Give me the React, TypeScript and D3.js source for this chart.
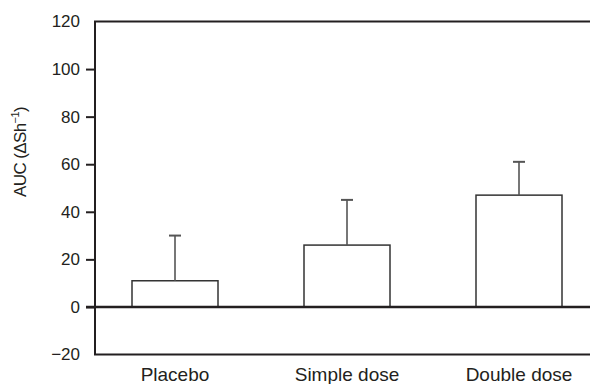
import { useEffect, useRef } from "react";
import * as d3 from "d3";

const categories = ["Placebo", "Simple dose", "Double dose"];
const means = [11, 26, 47];
const upperErrors = [30, 45, 61];
const yTicks = [-20, 0, 20, 40, 60, 80, 100, 120];

export default function App() {
  const svgRef = useRef<SVGSVGElement>(null);

  useEffect(() => {
    const width = 590;
    const height = 384;
    const svg = d3.select(svgRef.current).attr("width", width).attr("height", height);
    svg.selectAll("*").remove();

    const ink = "#231f20";
    const font = "'Liberation Sans', Arial, sans-serif";

    // scales
    const left = 95;
    const y = d3.scaleLinear().domain([-20, 120]).range([354.5, 21.5]);
    const x = d3
      .scaleBand<string>()
      .domain(categories)
      .range([89, 605])
      .paddingInner(0.5)
      .paddingOuter(0.25);

    // frame: top, left, bottom (no right side)
    svg
      .append("path")
      .attr("d", `M${width},${y(120)}H${left}V${y(-20)}H${width}`)
      .attr("fill", "none")
      .attr("stroke", ink)
      .attr("stroke-width", 2);

    // y axis ticks + labels
    const yAxis = d3
      .axisLeft(y)
      .tickValues(yTicks)
      .tickSize(9)
      .tickPadding(6)
      .tickFormat((d) => {
        const v = d as number;
        return v < 0 ? `\u2212${Math.abs(v)}` : `${v}`;
      });
    const gy = svg.append("g").attr("transform", `translate(${left},0)`).call(yAxis);
    gy.select(".domain").remove();
    gy.selectAll(".tick line")
      .attr("stroke", ink)
      .attr("stroke-width", 2)
      .attr("opacity", (d) => ((d as number) === 120 || (d as number) === -20 ? 0 : 1));
    gy.selectAll(".tick text")
      .attr("fill", ink)
      .style("font-family", font)
      .style("font-size", "17px");

    // bars
    svg
      .append("g")
      .selectAll("rect")
      .data(categories)
      .join("rect")
      .attr("x", (d) => x(d)!)
      .attr("width", x.bandwidth())
      .attr("y", (_, i) => y(means[i]))
      .attr("height", (_, i) => y(0) - y(means[i]))
      .attr("fill", "white")
      .attr("stroke", "#333")
      .attr("stroke-width", 1.5);

    // error bars (upper only)
    const err = svg.append("g").attr("stroke", "#555").attr("stroke-width", 1.6);
    categories.forEach((c, i) => {
      const cx = x(c)! + x.bandwidth() / 2;
      err
        .append("line")
        .attr("x1", cx)
        .attr("x2", cx)
        .attr("y1", y(means[i]))
        .attr("y2", y(upperErrors[i]));
      err
        .append("line")
        .attr("x1", cx - 6)
        .attr("x2", cx + 6)
        .attr("y1", y(upperErrors[i]))
        .attr("y2", y(upperErrors[i]))
        .attr("stroke-width", 2);
    });

    // zero line
    svg
      .append("line")
      .attr("x1", left - 9)
      .attr("x2", width)
      .attr("y1", y(0))
      .attr("y2", y(0))
      .attr("stroke", ink)
      .attr("stroke-width", 2.5);

    // category labels
    svg
      .append("g")
      .selectAll("text")
      .data(categories)
      .join("text")
      .attr("x", (d) => x(d)! + x.bandwidth() / 2)
      .attr("y", 381)
      .attr("text-anchor", "middle")
      .attr("fill", ink)
      .style("font-family", font)
      .style("font-size", "19px")
      .text((d) => d);

    // y axis title
    const title = svg
      .append("text")
      .attr("transform", `translate(26,152) rotate(-90)`)
      .attr("text-anchor", "middle")
      .attr("fill", ink)
      .style("font-family", font)
      .style("font-size", "17px")
      .style("letter-spacing", "-0.6px");
    title.append("tspan").text("AUC (\u0394Sh");
    title.append("tspan").attr("dy", -7).style("font-size", "11px").text("\u22121");
    title.append("tspan").attr("dy", 7).text(")");
  }, []);

  return (
    <svg
      ref={svgRef}
      style={{ position: "absolute", left: 0, top: 0, background: "white" }}
    ></svg>
  );
}
